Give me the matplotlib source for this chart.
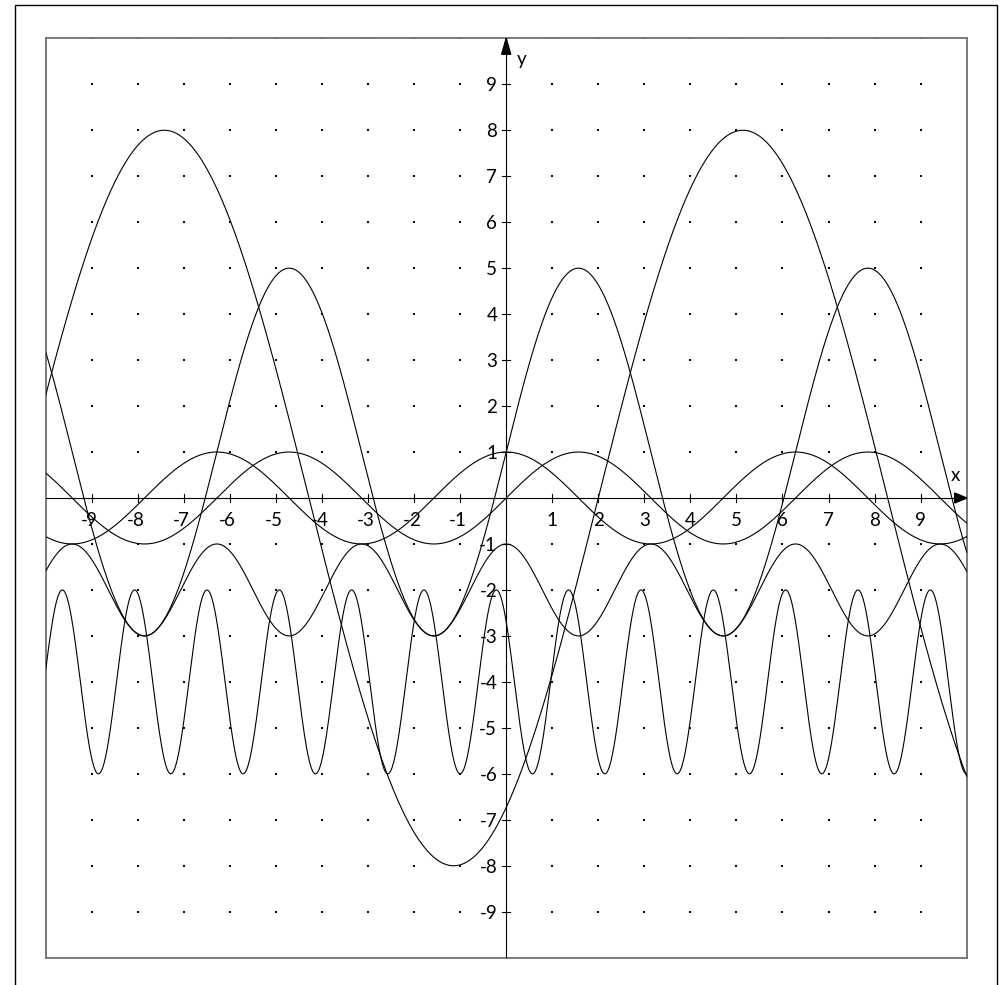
import numpy as np
import matplotlib
matplotlib.use("Agg")
import matplotlib.pyplot as plt
from matplotlib.patches import Rectangle, Polygon

# curves, each as y = offset + amp * sin(freq * x + phase)
amp = [1, 1, 1, 4, 2, 8]
freq = [1, 1, 2, 1, 4, 0.5]
phase = [0.0, 1.571, 1.571, 0.0, 2.43, -1.0]
offset = [0, 0, -2, 1, -4, 0]

x_ticks = [-9, -8, -7, -6, -5, -4, -3, -2, -1, 1, 2, 3, 4, 5, 6, 7, 8, 9]
y_ticks = [-9, -8, -7, -6, -5, -4, -3, -2, -1, 1, 2, 3, 4, 5, 6, 7, 8, 9]

plt.rcParams['font.family'] = ['Lato', 'DejaVu Sans']
FS = 13.5

W, H = 1004, 985
fig = plt.figure(figsize=(W / 100, H / 100), dpi=100)
ax = fig.add_axes([45.7 / W, 27.3 / H, 921.0 / W, 919.4 / H])
ax.set_xlim(-10, 10)
ax.set_ylim(-10, 10)
ax.set_xticks([])
ax.set_yticks([])
for s in ax.spines.values():
    s.set_color("#707070")
    s.set_linewidth(1.3)

# outer frame of the page
fig.patches.append(Rectangle((15 / W, -10 / H), 982.5 / W, (H - 5 + 10) / H,
                             transform=fig.transFigure, fill=False,
                             edgecolor="black", linewidth=1.0))

# dot grid
gx, gy = np.meshgrid(np.arange(-9, 10), np.arange(-9, 11))
mask = (gx != 0) & (gy != 0)
ax.scatter(gx[mask], gy[mask], s=2.5, marker="s", color="black", linewidths=0, zorder=2)

# axes lines
ax.plot([-10, 10], [0, 0], color="black", lw=0.8, zorder=3)
ax.plot([0, 0], [-10, 10], color="black", lw=0.8, zorder=3)

# arrow heads (sizes in data units: 1 unit ~ 46 px)
px = 1 / 46.0
ax.add_patch(Polygon([[10, 0], [10 - 12 * px, 5 * px], [10 - 12 * px, -5 * px]],
                     closed=True, color="black", zorder=4, clip_on=False))
ax.add_patch(Polygon([[0, 10], [-4.5 * px, 10 - 16 * px], [4.5 * px, 10 - 16 * px]],
                     closed=True, color="black", zorder=4, clip_on=False))

# tick marks and labels
for v in x_ticks:
    ax.plot([v, v], [-4 * px, 4 * px], color="black", lw=0.8, zorder=3)
    ax.annotate(str(abs(v)), (v, 0), xytext=(0, -10), textcoords="offset points",
                ha="center", va="top", fontsize=FS)
    if v < 0:
        ax.annotate("-", (v, 0), xytext=(-3.2, -10), textcoords="offset points",
                    ha="right", va="top", fontsize=FS)
for v in y_ticks:
    ax.plot([-4 * px, 4 * px], [v, v], color="black", lw=0.8, zorder=3)
    ax.annotate(str(v), (0, v), xytext=(-6.5, -1),
                textcoords="offset points", ha="right", va="center", fontsize=FS)

ax.text(9.75, 0.48, "x", ha="center", va="center", fontsize=FS)
ax.text(0.34, 9.53, "y", ha="center", va="center", fontsize=FS)

# the curves
xs = np.linspace(-10, 10, 3000)
for a, f, p, o in zip(amp, freq, phase, offset):
    ax.plot(xs, o + a * np.sin(f * xs + p), color="black", lw=0.8, zorder=5)

fig.savefig("out.png", dpi=100)
